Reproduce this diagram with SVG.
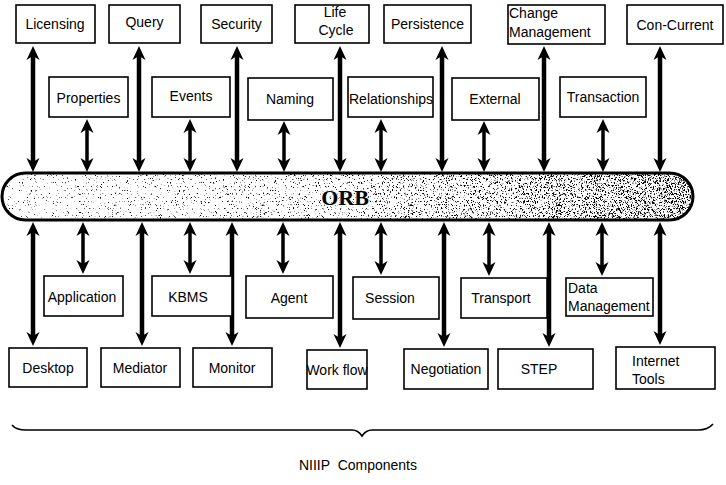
<svg xmlns="http://www.w3.org/2000/svg" width="726" height="485" viewBox="0 0 726 485">
<style>
.box{fill:#fff;stroke:#000;stroke-width:1.6}
.lbl{font-family:"Liberation Sans",Arial,sans-serif;font-size:14px;fill:#000}
.c{text-anchor:middle}
.long{stroke:#000;stroke-width:4.5;fill:none;marker-start:url(#ah);marker-end:url(#ah)}
.short{stroke:#000;stroke-width:3.5;fill:none;marker-start:url(#ah);marker-end:url(#ah)}
</style>
<defs>
<marker id="ah" markerUnits="userSpaceOnUse" markerWidth="16" markerHeight="14" refX="4" refY="6.5" orient="auto-start-reverse" overflow="visible">
<path d="M14,6.5 L0,0 L4,6.5 L0,13 Z" fill="#000"/>
</marker>
<linearGradient id="dg" x1="0" y1="0" x2="1" y2="0">
<stop offset="0" stop-color="#000" stop-opacity="0.34"/>
<stop offset="0.45" stop-color="#000" stop-opacity="0.38"/>
<stop offset="1" stop-color="#000" stop-opacity="0.50"/>
</linearGradient>
<filter id="speck" filterUnits="userSpaceOnUse" x="0" y="170" width="700" height="55">
<feTurbulence type="fractalNoise" baseFrequency="1.73" numOctaves="1" seed="11" result="n"/>
<feColorMatrix in="n" type="matrix" values="0 0 0 0 0  0 0 0 0 0  0 0 0 0 0  1 0 0 0 0" result="na"/>
<feComposite in="na" in2="SourceAlpha" operator="arithmetic" k1="0" k2="0.5" k3="0.5" k4="0" result="s"/>
<feComponentTransfer in="s">
<feFuncA type="linear" slope="20" intercept="-10"/>
</feComponentTransfer>
</filter>
<clipPath id="pillclip"><rect x="3" y="174" width="689" height="45" rx="22.5"/></clipPath>
</defs>

<g id="orb">
<rect x="2" y="173" width="691" height="47" rx="23.5" fill="#fff"/>
<g clip-path="url(#pillclip)"><rect x="2" y="173" width="691" height="47" fill="url(#dg)" filter="url(#speck)"/></g>
<rect x="2" y="173" width="691" height="47" rx="23.5" fill="none" stroke="#000" stroke-width="3"/>
<text x="345" y="205" text-anchor="middle" font-family="'Liberation Serif','Times New Roman',serif" font-weight="bold" font-size="22" stroke="#fff" stroke-width="2.5" paint-order="stroke" stroke-opacity="0.8">ORB</text>
</g>

<g id="connectors">
<line class="long" x1="33" y1="56" x2="33" y2="162"/>
<line class="long" x1="139" y1="56" x2="139" y2="162"/>
<line class="long" x1="237" y1="56" x2="237" y2="162"/>
<line class="long" x1="340" y1="56" x2="340" y2="162"/>
<line class="long" x1="442" y1="56" x2="442" y2="162"/>
<line class="long" x1="544" y1="56" x2="544" y2="162"/>
<line class="long" x1="660" y1="56" x2="660" y2="162"/>
<line class="short" x1="87" y1="129" x2="87" y2="162"/>
<line class="short" x1="190" y1="129" x2="190" y2="162"/>
<line class="short" x1="284" y1="131" x2="284" y2="162"/>
<line class="short" x1="381" y1="129" x2="381" y2="162"/>
<line class="short" x1="484" y1="131" x2="484" y2="162"/>
<line class="short" x1="603" y1="129" x2="603" y2="162"/>
<line class="long" x1="33" y1="232" x2="33" y2="336"/>
<line class="long" x1="142" y1="232" x2="142" y2="336"/>
<line class="long" x1="232" y1="232" x2="232" y2="336"/>
<line class="long" x1="340" y1="232" x2="340" y2="338"/>
<line class="long" x1="444" y1="232" x2="444" y2="337"/>
<line class="long" x1="549" y1="232" x2="549" y2="337"/>
<line class="long" x1="660" y1="232" x2="660" y2="335"/>
<line class="short" x1="83" y1="232" x2="83" y2="264"/>
<line class="short" x1="190" y1="232" x2="190" y2="264"/>
<line class="short" x1="283" y1="232" x2="283" y2="264"/>
<line class="short" x1="381" y1="232" x2="381" y2="265"/>
<line class="short" x1="489" y1="232" x2="489" y2="266"/>
<line class="short" x1="602" y1="232" x2="602" y2="266"/>
</g>

<g id="licensing"><rect class="box" x="16" y="5" width="79" height="38"/><text class="lbl c" x="55" y="29">Licensing</text></g>
<g id="query"><rect class="box" x="109" y="5" width="71" height="38"/><text class="lbl c" x="144.5" y="27">Query</text></g>
<g id="security"><rect class="box" x="201" y="5" width="71" height="38"/><text class="lbl c" x="236.5" y="29">Security</text></g>
<g id="lifecycle"><rect class="box" x="295" y="5" width="74" height="38"/><text class="lbl c" x="335" y="17">Life</text><text class="lbl c" x="336" y="35">Cycle</text></g>
<g id="persistence"><rect class="box" x="384" y="5" width="87" height="38"/><text class="lbl c" x="427.5" y="29">Persistence</text></g>
<g id="changemgmt"><rect class="box" x="508" y="5" width="97" height="39"/><text class="lbl" x="509" y="18">Change</text><text class="lbl" x="509" y="37">Management</text></g>
<g id="concurrent"><rect class="box" x="627" y="5" width="96" height="39"/><text class="lbl c" x="675" y="30">Con-Current</text></g>

<g id="properties"><rect class="box" x="49" y="77" width="79" height="40"/><text class="lbl c" x="88.5" y="103">Properties</text></g>
<g id="events"><rect class="box" x="152" y="77" width="78" height="40"/><text class="lbl c" x="191" y="101">Events</text></g>
<g id="naming"><rect class="box" x="248" y="78" width="85" height="42"/><text class="lbl c" x="290" y="104">Naming</text></g>
<g id="relationships"><rect class="box" x="348" y="77" width="85" height="40"/><text class="lbl" x="349" y="104">Relationships</text></g>
<g id="external"><rect class="box" x="452" y="78" width="87" height="42"/><text class="lbl c" x="495" y="104">External</text></g>
<g id="transaction"><rect class="box" x="560" y="77" width="86" height="40"/><text class="lbl c" x="603" y="102">Transaction</text></g>

<g id="application"><rect class="box" x="44" y="276" width="79" height="40"/><text class="lbl c" x="82" y="302">Application</text></g>
<g id="kbms"><rect class="box" x="152" y="276" width="80" height="40"/><text class="lbl c" x="188" y="302">KBMS</text></g>
<g id="agent"><rect class="box" x="246" y="276" width="87" height="42"/><text class="lbl c" x="289" y="303">Agent</text></g>
<g id="session"><rect class="box" x="353" y="277" width="86" height="42"/><text class="lbl c" x="390" y="303">Session</text></g>
<g id="transport"><rect class="box" x="461" y="278" width="86" height="40"/><text class="lbl c" x="501" y="303">Transport</text></g>
<g id="datamgmt"><rect class="box" x="566" y="278" width="87" height="38"/><text class="lbl" x="568" y="293">Data</text><text class="lbl" x="568" y="311">Management</text></g>

<g id="desktop"><rect class="box" x="9" y="348" width="78" height="39"/><text class="lbl c" x="48" y="373">Desktop</text></g>
<g id="mediator"><rect class="box" x="101" y="348" width="79" height="39"/><text class="lbl c" x="140" y="373">Mediator</text></g>
<g id="monitor"><rect class="box" x="193" y="348" width="79" height="39"/><text class="lbl c" x="232" y="373">Monitor</text></g>
<g id="workflow"><rect class="box" x="307" y="350" width="60" height="39"/><text class="lbl c" x="337" y="375" font-size="13.5">Work flow</text></g>
<g id="negotiation"><rect class="box" x="404" y="349" width="84" height="40"/><text class="lbl c" x="446" y="374">Negotiation</text></g>
<g id="step"><rect class="box" x="498" y="349" width="95" height="40"/><text class="lbl c" x="539" y="374">STEP</text></g>
<g id="internettools"><rect class="box" x="616" y="347" width="99" height="42"/><text class="lbl" x="632" y="366">Internet</text><text class="lbl" x="632" y="384">Tools</text></g>

<g id="brace">
<path d="M12,425 Q16,430 26,430 L352,430 Q358,430 362,436 Q366,430 372,430 L698,430 Q708,430 713,424" fill="none" stroke="#000" stroke-width="1.6"/>
<text class="lbl c" x="358" y="470" font-size="15" xml:space="preserve">NIIIP  Components</text>
</g>
</svg>
